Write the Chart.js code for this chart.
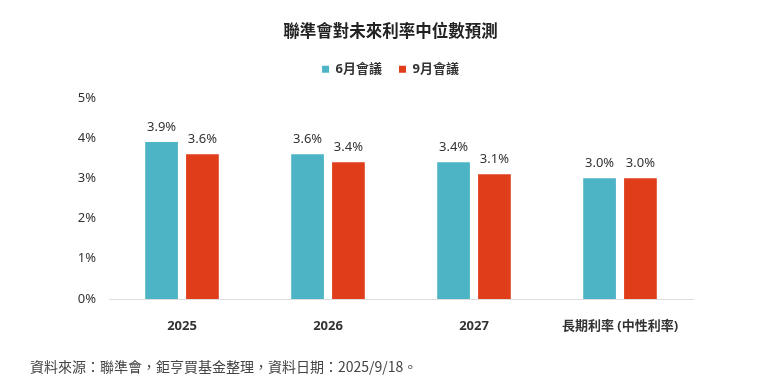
<!DOCTYPE html>
<html lang="zh-Hant-TW">
<head>
<meta charset="utf-8">
<script src="https://cdn.jsdelivr.net/npm/chart.js@4"></script>
<style>
  html, body { margin: 0; padding: 0; background: #fff; }
  #wrap { position: relative; width: 760px; height: 389px; }
  #note {
    position: absolute; left: 30px; top: 356px;
    font: 14px 'Noto Sans CJK TC', 'Noto Sans', sans-serif; color: #444;
  }
</style>
</head>
<body>
<div id="wrap">
  <canvas id="rateChart" width="760" height="389"></canvas>
  <div id="note" lang="zh-Hant-TW">資料來源：聯準會，鉅亨買基金整理，資料日期：2025/9/18。</div>
</div>
<script>
const categories = ['2025', '2026', '2027', '長期利率 (中性利率)'];
const juneMeeting = [3.9, 3.6, 3.4, 3.0];
const septMeeting = [3.6, 3.4, 3.1, 3.0];
const seriesNames = ['6月會議', '9月會議'];

const FONT = "'Noto Sans', 'Noto Sans CJK TC', sans-serif";
Chart.defaults.font.family = FONT;
Chart.defaults.color = '#333';

// simple value labels above each bar
const barLabels = {
  id: 'barLabels',
  afterDatasetsDraw(chart) {
    const ctx = chart.ctx;
    ctx.save();
    ctx.font = '13px ' + FONT;
    ctx.fillStyle = '#333';
    ctx.textAlign = 'center';
    ctx.textBaseline = 'bottom';
    chart.data.datasets.forEach((ds, i) => {
      chart.getDatasetMeta(i).data.forEach((bar, j) => {
        ctx.fillText(ds.data[j].toFixed(1) + '%', bar.x, bar.y - 8);
      });
    });
    ctx.restore();
  }
};

// more room under the legend, and title + legend nudged right a bit
const headerTweaks = {
  id: 'headerTweaks',
  afterInit(chart) {
    const shift = 14;
    const leg = chart.legend;
    if (leg) {
      const fit = leg.fit.bind(leg);
      leg.fit = function () {
        fit();
        this.height += 12;
      };
    }
    [chart.titleBlock, leg].forEach(box => {
      if (!box) return;
      const draw = box.draw.bind(box);
      box.draw = function () {
        chart.ctx.save();
        chart.ctx.translate(shift, 0);
        draw();
        chart.ctx.restore();
      };
    });
  }
};

new Chart(document.getElementById('rateChart'), {
  type: 'bar',
  data: {
    labels: categories,
    datasets: [
      { label: seriesNames[0], data: juneMeeting, backgroundColor: '#4db4c6' },
      { label: seriesNames[1], data: septMeeting, backgroundColor: '#e03d1b' }
    ]
  },
  options: {
    responsive: false,
    animation: false,
    categoryPercentage: 0.56,
    barPercentage: 0.8,
    layout: { padding: { left: 60, right: 67, top: 0, bottom: 50 } },
    scales: {
      x: {
        grid: { display: false },
        border: { display: true, color: '#ddd', width: 1 },
        ticks: { font: { size: 13, weight: 'bold' }, color: '#333', padding: 11 },
        afterFit: s => { s.height = 40; }
      },
      y: {
        min: 0,
        max: 5,
        grid: { display: false },
        border: { display: false },
        ticks: { stepSize: 1, padding: 5, font: { size: 13 }, color: '#333', callback: v => v + '%' },
        afterFit: s => { s.width = 49; }
      }
    },
    plugins: {
      title: {
        display: true,
        text: '聯準會對未來利率中位數預測',
        font: { size: 16.5, weight: 'bold' },
        color: '#222',
        padding: { top: 22, bottom: 4 }
      },
      legend: {
        display: true,
        labels: {
          boxWidth: 7,
          boxHeight: 7,
          padding: 17,
          font: { size: 13, weight: 'bold' },
          color: '#333'
        }
      },
      tooltip: { enabled: false }
    }
  },
  plugins: [barLabels, headerTweaks]
});
</script>
</body>
</html>
